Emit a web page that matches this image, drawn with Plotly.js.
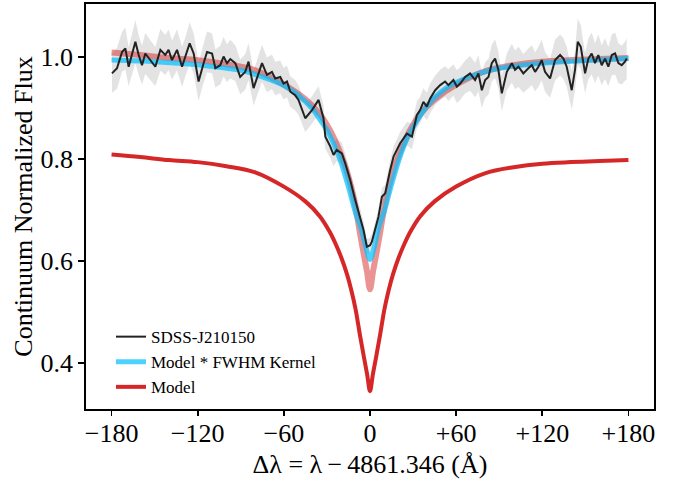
<!DOCTYPE html>
<html>
<head>
<meta charset="utf-8">
<script src="https://cdn.plot.ly/plotly-3.0.1.min.js"></script>
<style>html,body{margin:0;padding:0;background:#fff;}#chart{width:684px;height:479px;}</style>
</head>
<body>
<div id="chart"></div>
<script>
// Observed spectrum (SDSS-J210150): wavelength offset (Å), flux, 1-sigma error
const dataX = [
  -179.7,-176.2,-172.7,-170.4,-168.1,-165.7,-163.4,-161.1,-158.8,-156.5,
  -153.0,-149.5,-146.0,-142.6,-140.3,-137.9,-134.4,-130.9,-128.6,-125.6,
  -122.8,-119.4,-115.9,-113.5,-110.0,-107.7,-104.3,-102.0,-99.6,-97.3,
  -93.8,-90.4,-86.9,-84.6,-81.1,-77.6,-75.2,-71.8,-68.3,-66.0,
  -62.5,-60.2,-57.8,-55.5,-52.1,-49.8,-45.1,-40.4,-35.8,-32.4,
  -31.1,-27.7,-25.4,-23.2,-19.6,-17.3,-13.8,-10.3,-6.8,-4.5,
  -2.2,0.1,1.3,3.6,5.9,8.3,10.6,14.0,16.4,18.7,
  21.0,25.7,29.2,32.6,34.9,37.2,39.6,41.9,45.4,48.9,
  52.3,54.6,58.1,60.5,62.8,66.3,69.7,73.2,75.5,77.9,
  80.2,82.5,84.8,87.1,89.4,91.8,95.3,98.8,101.0,103.4,
  106.8,110.3,112.7,115.0,117.3,119.6,121.9,125.4,128.9,132.4,
  134.7,137.0,140.5,142.8,144.7,146.8,149.8,152.1,154.4,156.7,
  159.0,161.4,163.7,166.0,168.4,170.7,173.0,175.3,177.6,178.8
];
const dataFlux = [
  0.968,0.978,1.010,1.017,0.981,1.007,1.030,1.004,0.984,1.007,
  0.994,0.981,1.014,1.004,1.014,0.994,1.014,0.981,1.001,1.027,
  1.007,0.952,0.988,1.010,1.007,0.978,0.984,1.001,0.988,0.996,
  0.988,0.961,0.971,0.991,0.939,0.968,0.988,0.965,0.971,0.958,
  0.961,0.948,0.952,0.932,0.925,0.916,0.880,0.896,0.916,0.880,
  0.844,0.825,0.808,0.818,0.811,0.792,0.759,0.720,0.687,0.661,
  0.628,0.631,0.638,0.661,0.687,0.726,0.733,0.778,0.805,0.818,
  0.831,0.850,0.844,0.886,0.896,0.912,0.903,0.919,0.935,0.945,
  0.952,0.945,0.955,0.942,0.948,0.961,0.968,0.955,0.968,0.935,
  0.955,0.961,0.988,0.997,0.975,0.929,0.971,0.988,0.975,0.981,
  0.968,0.978,0.984,0.971,0.981,0.994,0.971,0.958,0.994,1.004,
  0.997,0.981,0.935,0.975,1.030,1.020,0.968,0.997,1.007,0.988,
  1.004,0.984,0.997,0.981,1.004,1.007,0.988,0.984,0.991,0.997
];
const dataErr = [
  0.038,0.040,0.039,0.041,0.038,0.040,0.042,0.039,0.038,0.040,
  0.039,0.038,0.041,0.039,0.040,0.038,0.040,0.039,0.038,0.041,
  0.039,0.038,0.038,0.040,0.039,0.037,0.038,0.039,0.037,0.038,
  0.035,0.034,0.035,0.036,0.034,0.035,0.036,0.034,0.034,0.033,
  0.032,0.031,0.031,0.030,0.030,0.029,0.027,0.027,0.027,0.025,
  0.024,0.023,0.022,0.022,0.021,0.020,0.018,0.017,0.016,0.016,
  0.015,0.015,0.015,0.016,0.016,0.017,0.017,0.018,0.020,0.021,
  0.022,0.023,0.025,0.026,0.026,0.027,0.027,0.029,0.029,0.030,
  0.030,0.031,0.031,0.032,0.032,0.032,0.034,0.034,0.035,0.035,
  0.035,0.035,0.036,0.038,0.036,0.035,0.036,0.038,0.038,0.039,
  0.038,0.039,0.039,0.038,0.039,0.040,0.039,0.038,0.040,0.040,
  0.040,0.039,0.038,0.039,0.045,0.043,0.039,0.040,0.041,0.039,
  0.040,0.039,0.040,0.038,0.040,0.041,0.039,0.038,0.039,0.040
];

// Intrinsic model profile
const modelX = [-180,-160,-140,-120,-100,-80,-60,-45,-35,-28,-24,-20,-16,-13,-10,-7,-4,-2,0,
                2,4,7,10,13,16,20,24,28,35,45,60,80,100,120,140,160,180];
const modelFlux = [0.809,0.804,0.798,0.794,0.786,0.774,0.746,0.717,0.688,0.657,0.634,0.607,0.574,0.543,0.505,0.455,0.408,0.378,0.345,
                   0.378,0.408,0.455,0.505,0.543,0.574,0.607,0.634,0.657,0.688,0.717,0.746,0.772,0.784,0.791,0.794,0.796,0.798];
// Model shifted to the continuum (faded curve, no legend entry)
const modelShiftedFlux = [1.009,1.004,0.998,0.994,0.986,0.974,0.946,0.917,0.888,0.857,0.834,0.807,0.774,0.743,0.705,0.655,0.608,0.578,0.545,
                          0.578,0.608,0.655,0.705,0.743,0.774,0.807,0.834,0.857,0.888,0.917,0.946,0.972,0.984,0.991,0.994,0.996,0.998];

// Model convolved with the FWHM kernel
const convX = [-180,-150,-120,-100,-90,-75,-60,-50,-40,-35,-30,-25,-20,-15,-10,-6,-3,0,
               3,6,10,15,20,25,30,35,40,50,60,75,90,100,120,150,180];
const convFlux = [0.994,0.991,0.985,0.978,0.974,0.961,0.944,0.925,0.898,0.878,0.857,0.828,0.792,0.745,0.694,0.662,0.628,0.603,
                  0.628,0.665,0.698,0.750,0.797,0.835,0.862,0.885,0.905,0.933,0.950,0.967,0.978,0.982,0.988,0.993,0.997];

const xTickVals = [-180,-120,-60,0,60,120,180];
const xTickText = ['\u2212180','\u2212120','\u221260','0','+60','+120','+180'];
const yTickVals = [0.4,0.6,0.8,1.0];
const yTickText = ['0.4','0.6','0.8','1.0'];

const lower = dataFlux.map((f,i)=>f - dataErr[i]);
const upper = dataFlux.map((f,i)=>f + dataErr[i]);

const FONT = 'Liberation Serif, Times New Roman, serif';
const XRANGE = [-197.8,197.8];

const traces = [
  {x: dataX, y: lower, mode:'lines', line:{width:0, color:'rgba(0,0,0,0)'}, showlegend:false, hoverinfo:'skip'},
  {x: dataX, y: upper, mode:'lines', line:{width:0, color:'rgba(0,0,0,0)'}, fill:'tonexty',
   fillcolor:'rgba(200,200,200,0.5)', showlegend:false, hoverinfo:'skip'},
  {x: modelX, y: modelShiftedFlux, mode:'lines', line:{color:'rgba(214,39,40,0.5)', width:6, shape:'spline', smoothing:1},
   showlegend:false},
  {x: convX, y: convFlux, mode:'lines', name:'Model * FWHM Kernel', legendrank:2,
   line:{color:'rgba(0,191,255,0.7)', width:5, shape:'spline', smoothing:0.8}},
  {x: dataX, y: dataFlux, mode:'lines', name:'SDSS-J210150', legendrank:1,
   line:{color:'#222222', width:2}},
  {x: modelX, y: modelFlux, mode:'lines', name:'Model', legendrank:3, xaxis:'x2', yaxis:'y',
   line:{color:'#d62728', width:4, shape:'spline', smoothing:1}}
];

const layout = {
  width:684, height:479,
  margin:{l:86, r:30, t:4, b:70},
  paper_bgcolor:'#ffffff', plot_bgcolor:'#ffffff',
  font:{family:FONT, color:'#000', size:26},
  showlegend:true,
  legend:{x:0.044, y:0.222, xanchor:'left', yanchor:'top', bgcolor:'rgba(0,0,0,0)', traceorder:'normal',
          font:{family:FONT, size:17, color:'#000'}, tracegroupgap:0},
  xaxis:{range:XRANGE, tickvals:xTickVals, ticktext:xTickText,
         ticks:'', ticklen:0,
         showline:true, linewidth:1.8, linecolor:'#000', mirror:true,
         showgrid:false, zeroline:false,
         tickfont:{family:FONT, size:26, color:'#000'},
         title:{text:'\u0394\u03bb = \u03bb\u2009\u2212\u20094861.346 (\u00c5)', font:{family:FONT, size:26, color:'#000'}, standoff:8}},
  xaxis2:{range:XRANGE, overlaying:'x', anchor:'y', side:'bottom', tickvals:xTickVals,
          showticklabels:false, ticks:'outside', ticklen:6, tickwidth:1.6, tickcolor:'#000',
          showline:false, showgrid:false, zeroline:false},
  yaxis:{range:[0.31,1.104], tickvals:yTickVals, ticktext:yTickText,
         ticks:'outside', ticklen:6, tickwidth:1.6, tickcolor:'#000',
         showline:true, linewidth:1.8, linecolor:'#000', mirror:true,
         showgrid:false, zeroline:false,
         tickfont:{family:FONT, size:26, color:'#000'},
         title:{text:'Continuum Normalized Flux', font:{family:FONT, size:26, color:'#000'}, standoff:0}}
};

Plotly.newPlot('chart', traces, layout, {displayModeBar:false, staticPlot:true});
</script>
</body>
</html>
